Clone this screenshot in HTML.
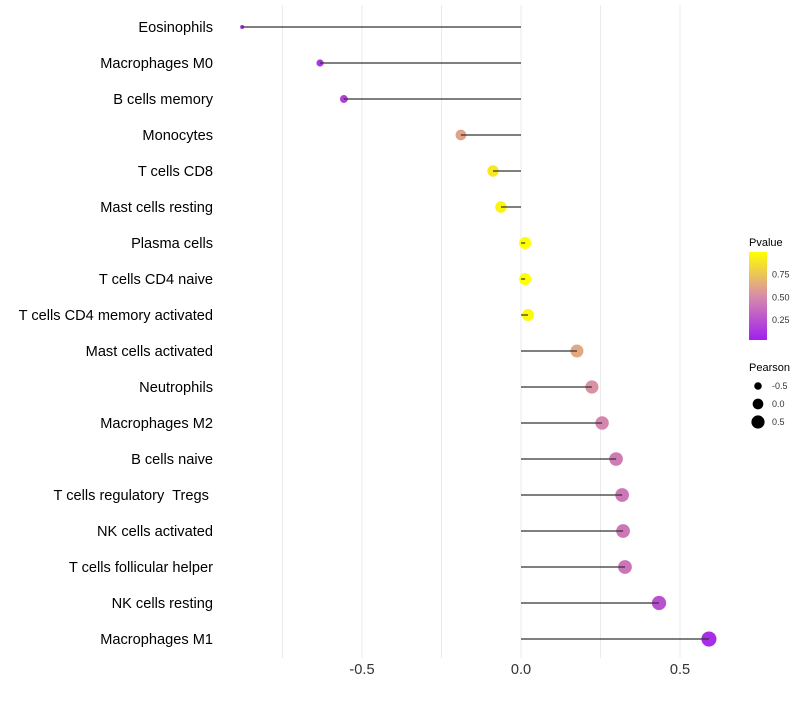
<!DOCTYPE html>
<html><head><meta charset="utf-8"><style>
body{margin:0;background:#fff;font-family:"Liberation Sans",sans-serif}
</style></head><body>
<svg id="c" width="800" height="700" xmlns="http://www.w3.org/2000/svg"></svg>
<script>
const cells=["Eosinophils","Macrophages M0","B cells memory","Monocytes","T cells CD8","Mast cells resting","Plasma cells","T cells CD4 naive","T cells CD4 memory activated","Mast cells activated","Neutrophils","Macrophages M2","B cells naive","T cells regulatory\u00a0 Tregs\u00a0","NK cells activated","T cells follicular helper","NK cells resting","Macrophages M1"];
const pearson=[-0.877,-0.632,-0.557,-0.189,-0.088,-0.063,0.013,0.013,0.022,0.176,0.223,0.255,0.299,0.318,0.321,0.327,0.434,0.591];
const pvalue=[0.05,0.1,0.15,0.6,0.9,0.95,1.0,1.0,0.98,0.62,0.52,0.47,0.42,0.4,0.4,0.39,0.22,0.06];
const xTicks=[-0.5,0,0.5];
const xGrid=[-0.75,-0.5,-0.25,0,0.25,0.5];
const pTicks=[0.25,0.5,0.75];
const sizeLegend=[-0.5,0,0.5];

const svg=document.getElementById('c');const NS='http://www.w3.org/2000/svg';
function mk(t,a,p){const e=document.createElementNS(NS,t);for(const k in a)e.setAttribute(k,a[k]);(p||svg).appendChild(e);return e;}
const x=v=>521+v*318;
const y=i=>27+i*36;
const r=v=>Math.sqrt(4+(v+0.877)*36);
function lerp(a,b,t){return a.map((c,i)=>Math.round(c+(b[i]-c)*t));}
function col(p){const lo=[160,32,240],mid=[216,140,170],hi=[255,255,0];
 const c=p<0.5?lerp(lo,mid,p/0.5):lerp(mid,hi,(p-0.5)/0.5);return `rgb(${c})`;}
xGrid.forEach(v=>{const g=mk('line',{x1:x(v),x2:x(v),y1:5,y2:658,stroke:'#ebebeb','stroke-width':1});

});
xTicks.forEach(v=>{const t=mk('text',{x:x(v),y:674,'text-anchor':'middle','font-size':14.6,fill:'#333'});t.textContent=v===0?'0.0':v.toFixed(1);

});
cells.forEach((c,i)=>{
 const t=mk('text',{x:213,y:y(i)+5,'text-anchor':'end','font-size':14.6,fill:'#000'});t.textContent=c;
 
 
 const d=mk('circle',{cx:x(pearson[i]),cy:y(i),r:r(pearson[i]),fill:col(pvalue[i])});
 
 
 const l=mk('line',{x1:x(0),x2:x(pearson[i]),y1:y(i),y2:y(i),stroke:'#333','stroke-width':1.2});
 
 
});
// color legend
const defs=mk('defs',{});const lg=mk('linearGradient',{id:'g',x1:0,y1:1,x2:0,y2:0},defs);
[0,0.25,0.5,0.75,1].forEach(s=>mk('stop',{offset:s,'stop-color':col(s)},lg));
const lt=mk('text',{x:749,y:246,'font-size':11,fill:'#000'});lt.textContent='Pvalue';


const bar=mk('rect',{x:749,y:252,width:18,height:88,fill:'url(#g)'});


const py=p=>340-(p-0.03)/0.97*88;
pTicks.forEach(p=>{const t=mk('text',{x:772,y:py(p)+3,'font-size':9,fill:'#333'});t.textContent=p.toFixed(2);

});
const st=mk('text',{x:749,y:371,'font-size':11,fill:'#000'});st.textContent='Pearson';


sizeLegend.forEach((v,i)=>{const cy=386+i*18;
 const cc=mk('circle',{cx:758,cy:cy,r:r(v)*0.9,fill:'#000'});
 
 
 const t=mk('text',{x:772,y:cy+3,'font-size':9,fill:'#333'});t.textContent=v===0?'0.0':v.toFixed(1);
 
 });
</script>
</body></html>
